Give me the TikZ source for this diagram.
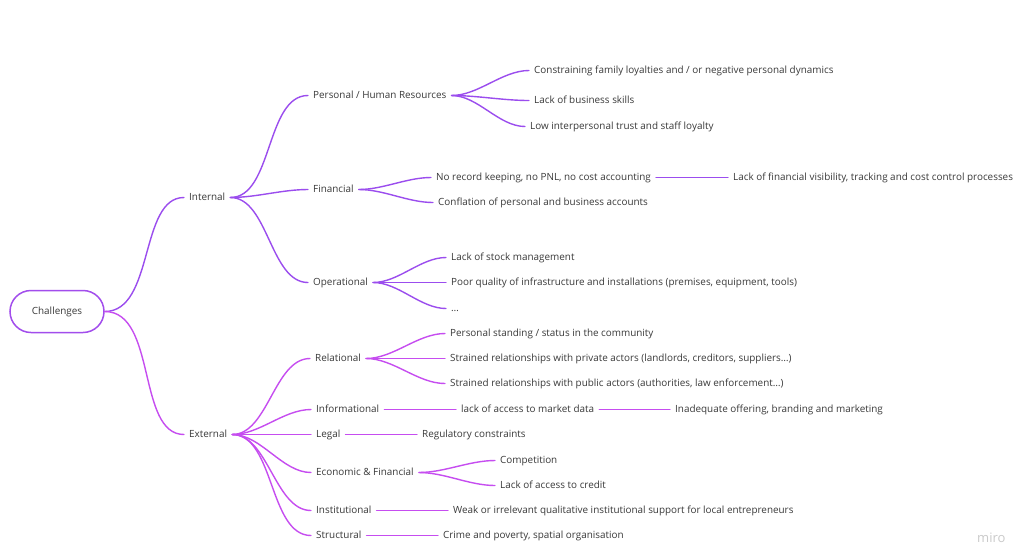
\documentclass[tikz,border=0pt]{standalone}
\usepackage{fontspec}
\setmainfont{Open Sans}
\definecolor{intline}{HTML}{9B4DEE}
\definecolor{extline}{HTML}{C64DF0}
\definecolor{hubline}{HTML}{A24DEC}
\definecolor{labeltext}{HTML}{3A3A3A}
\definecolor{marktext}{HTML}{CACACA}
\begin{document}
\begin{tikzpicture}[x=1pt, y=-1pt,
    topic/.style={anchor=west, inner sep=0pt, text=labeltext,
                  font=\fontsize{9.9}{12}\selectfont, text height=7.5pt, text depth=2pt},
    hub/.style={draw=hubline, line width=1.5pt, rounded corners=21pt,
                minimum width=94pt, minimum height=42pt, text=labeltext,
                font=\fontsize{9.9}{12}\selectfont},
    link/.style={draw=#1, line width=1.4pt, line cap=round,
                 shorten <=5pt, shorten >=5pt},
    curvy/.style={out=0, in=180, looseness=0.9}]
  \useasboundingbox[fill=white] (0,-1.5) rectangle (1024,545.5);

  \node[hub] (root) at (57,310) {Challenges};
  \node[topic] (intl) at (189,196) {Internal};
  \node[topic] (extl) at (189,433) {External};

  \node[topic] (pers) at (313,94) {Personal / Human Resources};
  \node[topic] (fin) at (313,188) {Financial};
  \node[topic] (oper) at (313,281) {Operational};

  \node[topic] (p1) at (534,69) {Constraining family loyalties and / or negative personal dynamics};
  \node[topic] (p2) at (534,99) {Lack of business skills};
  \node[topic] (p3) at (530,125) {Low interpersonal trust and staff loyalty};

  \node[topic] (f1) at (436,176) {No record keeping, no PNL, no cost accounting};
  \node[topic] (f2) at (438,201) {Conflation of personal and business accounts};
  \node[topic] (f3) at (733,176) {Lack of financial visibility, tracking and cost control processes};

  \node[topic] (o1) at (451,256) {Lack of stock management};
  \node[topic] (o2) at (451,281) {Poor quality of infrastructure and installations (premises, equipment, tools)};
  \node[topic] (o3) at (451,307) {…};

  \node[topic] (rel) at (315,357) {Relational};
  \node[topic] (info) at (316,408) {Informational};
  \node[topic] (legal) at (316,433) {Legal};
  \node[topic] (econ) at (316,471) {Economic \& Financial};
  \node[topic] (inst) at (316,509) {Institutional};
  \node[topic] (struc) at (316,534) {Structural};

  \node[topic] (r1) at (450,332) {Personal standing / status in the community};
  \node[topic] (r2) at (450,357) {Strained relationships with private actors (landlords, creditors, suppliers…)};
  \node[topic] (r3) at (450,382) {Strained relationships with public actors (authorities, law enforcement…)};
  \node[topic] (i1) at (461,408) {lack of access to market data};
  \node[topic] (i2) at (675,408) {Inadequate offering, branding and marketing};
  \node[topic] (l1) at (422,433) {Regulatory constraints};
  \node[topic] (e1) at (500,459) {Competition};
  \node[topic] (e2) at (500,484) {Lack of access to credit};
  \node[topic] (n1) at (453,509) {Weak or irrelevant qualitative institutional support for local entrepreneurs};
  \node[topic] (s1) at (443,534) {Crime and poverty, spatial organisation};

  \node[anchor=base west, inner sep=0pt, text=marktext,
        font=\fontsize{13}{15}\selectfont] (brand) at (977,540.5) {miro};

  \draw[link=intline, shorten <=0pt] (root.east) to[curvy] (intl.west);
  \draw[link=extline, shorten <=0pt] (root.east) to[curvy] (extl.west);

  \draw[link=intline] (intl.east) to[curvy] (pers.west);
  \draw[link=intline] (intl.east) to[curvy] (fin.west);
  \draw[link=intline] (intl.east) to[curvy] (oper.west);
  \draw[link=intline] (pers.east) to[curvy] (p1.west);
  \draw[link=intline] (pers.east) to[curvy] (p2.west);
  \draw[link=intline] (pers.east) to[curvy] (p3.west);
  \draw[link=intline] (fin.east) to[curvy] (f1.west);
  \draw[link=intline] (fin.east) to[curvy] (f2.west);
  \draw[link=intline] (f1.east) -- (f3.west);
  \draw[link=intline] (oper.east) to[curvy] (o1.west);
  \draw[link=intline] (oper.east) to[curvy] (o2.west);
  \draw[link=intline] (oper.east) to[curvy] (o3.west);

  \draw[link=extline] (extl.east) to[curvy] (rel.west);
  \draw[link=extline] (extl.east) to[curvy] (info.west);
  \draw[link=extline] (extl.east) to[curvy] (legal.west);
  \draw[link=extline] (extl.east) to[curvy] (econ.west);
  \draw[link=extline] (extl.east) to[curvy] (inst.west);
  \draw[link=extline] (extl.east) to[curvy] (struc.west);
  \draw[link=extline] (rel.east) to[curvy] (r1.west);
  \draw[link=extline] (rel.east) to[curvy] (r2.west);
  \draw[link=extline] (rel.east) to[curvy] (r3.west);
  \draw[link=extline] (info.east) -- (i1.west);
  \draw[link=extline] (i1.east) -- (i2.west);
  \draw[link=extline] (legal.east) -- (l1.west);
  \draw[link=extline] (econ.east) to[curvy] (e1.west);
  \draw[link=extline] (econ.east) to[curvy] (e2.west);
  \draw[link=extline] (inst.east) -- (n1.west);
  \draw[link=extline] (struc.east) -- (s1.west);
\end{tikzpicture}
\end{document}
